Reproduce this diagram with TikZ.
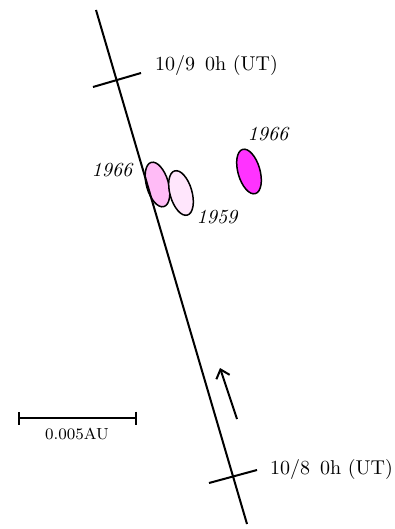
\documentclass[tikz,border=0pt]{standalone}
\usepackage{tikz}
\usetikzlibrary{arrows.meta}
\definecolor{pinkA}{RGB}{255,187,246}
\definecolor{pinkB}{RGB}{255,230,252}
\definecolor{magA}{RGB}{255,51,255}
\begin{document}
\begin{tikzpicture}[x=0.5pt, y=-0.5pt, >={Straight Barb[length=4pt,width=7pt]},
  orbit/.style={line width=1pt},
  blob/.style={line width=0.75pt},
  yr/.style={font=\itshape}]
  \useasboundingbox (0,0) rectangle (395,529);

  % Trail positions
  \draw[blob, fill=pinkA, shift={(157.5,184.5)}, rotate=16] (0,0) ellipse (11 and 23);
  \draw[blob, fill=pinkB, shift={(181,193)}, rotate=16] (0,0) ellipse (11 and 23);
  \draw[blob, fill=magA, shift={(249,171.5)}, rotate=16] (0,0) ellipse (11 and 23);
  \node[yr] (y66a) at (112,170) {1966};
  \node[yr] (y59) at (217,217) {1959};
  \node[yr] (y66b) at (268,134) {1966};

  % Earth path
  \coordinate (top) at (96,10);
  \coordinate (bot) at (247,524);
  \draw[orbit] (top) -- (bot);

  % Time marks
  \coordinate (m9a) at (93,87);
  \coordinate (m9b) at (141,73);
  \draw[orbit] (m9a) -- (m9b);
  \node[anchor=west] (t9) at (148,66) {10/9\enspace 0h (UT)};
  \coordinate (m8a) at (209,483);
  \coordinate (m8b) at (257,470);
  \draw[orbit] (m8a) -- (m8b);
  \node[anchor=west] (t8) at (263,469) {10/8\enspace 0h (UT)};

  % Direction
  \coordinate (dirA) at (237,419);
  \coordinate (dirB) at (220,368);
  \draw[orbit, ->] (dirA) -- (dirB);

  % Scale bar
  \coordinate (barL) at (18,418);
  \coordinate (barR) at (137,418);
  \draw[orbit, {Bar[width=6.5pt]}-{Bar[width=6.5pt]}] (barL) -- (barR);
  \node[font=\footnotesize] (au) at (77,434) {0.005AU};
\end{tikzpicture}
\end{document}
